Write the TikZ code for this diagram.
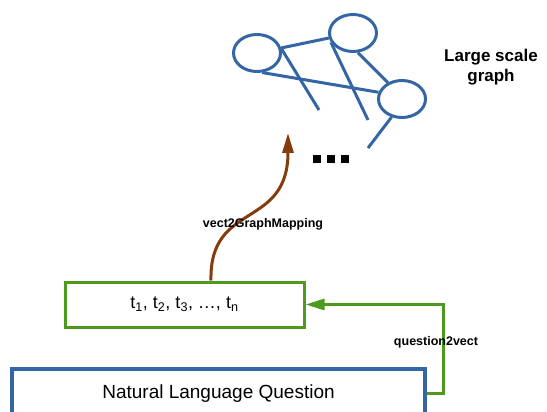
\documentclass[tikz,border=0pt]{standalone}
\usepackage{fontspec}
\setmainfont{Liberation Sans}
\usetikzlibrary{shapes.geometric,arrows.meta}
\definecolor{gblue}{HTML}{3465A4}
\definecolor{ggreen}{HTML}{4E9A1E}
\definecolor{gbrown}{HTML}{843C0C}
\begin{document}
\begin{tikzpicture}[x=1pt,y=-1pt,
  vert/.style={ellipse,draw=gblue,line width=3pt,minimum width=47pt,minimum height=37pt,inner sep=0pt},
  edge/.style={draw=gblue,line width=3pt},
  tokbox/.style={rectangle,draw=ggreen,line width=3pt,minimum width=239pt,minimum height=45pt,font=\fontsize{18}{20}\selectfont},
  qbox/.style={rectangle,draw=gblue,line width=3.5pt,minimum width=413pt,minimum height=49pt,font=\fontsize{19}{21}\selectfont},
  lbl/.style={font=\bfseries\fontsize{12.5}{14}\selectfont},
  marrow/.style={draw=gbrown,line width=3pt,-{Triangle[length=20pt,width=11pt]}},
  qarrow/.style={draw=ggreen,line width=3pt,-{Triangle[length=19pt,width=11pt]}}]
  \useasboundingbox (0,0) rectangle (547,412);

  \node[vert] (1) at (257,53) {};
  \node[vert] (2) at (353,33) {};
  \node[vert] (3) at (402,99) {};

  \coordinate (d1) at (319,110);
  \coordinate (d2) at (368,120);
  \coordinate (d3) at (368,148);

  \draw[edge] (1) -- (2);
  \draw[edge] (1.-75) -- (3.164);
  \draw[edge] (1.10) -- (d1);
  \draw[edge] (2.203) -- (d2);
  \draw[edge] (2.-76) -- (3.131);
  \draw[edge] (3.240) -- (d3);

  \foreach \x in {313,327,341}
    \fill (\x,155) rectangle ++(8,8);

  \node[align=center,font=\bfseries\fontsize{17}{20}\selectfont] (title) at (491,67) {Large scale\\graph};

  \node[tokbox] (tok) at (184.5,304.5) {t\textsubscript{1}, t\textsubscript{2}, t\textsubscript{3}, \dots, t\textsubscript{n}};
  \node[qbox] (nlq) at (218.5,393.5) {Natural Language Question};

  \coordinate (top) at (288,133);
  \draw[marrow] ([xshift=26.5pt]tok.north) .. controls +(-2,-80) and +(0,97) .. (top);
  \node[lbl] (map) at (263,224) {vect2GraphMapping};

  \draw[qarrow] (nlq.east) -- ++(17,0) |- (tok.east);
  \node[lbl] (q2v) at (436,342) {question2vect};
\end{tikzpicture}
\end{document}
